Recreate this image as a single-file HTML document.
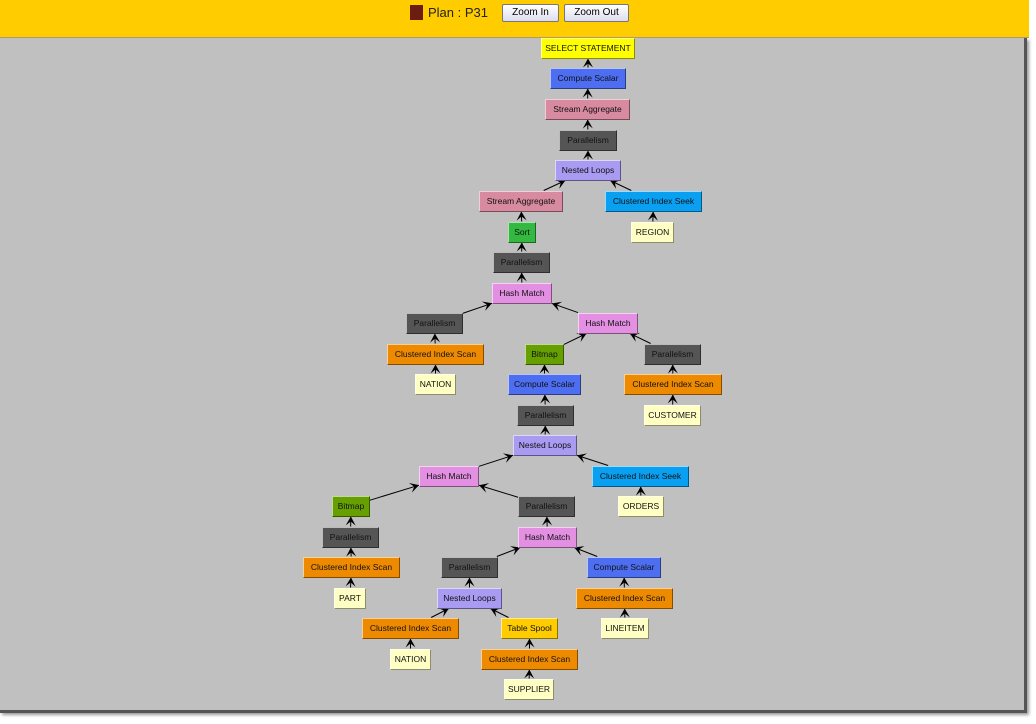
<!DOCTYPE html>
<html><head><meta charset="utf-8"><style>
html,body{margin:0;padding:0;width:1036px;height:724px;overflow:hidden;background:#fff;font-family:"Liberation Sans",sans-serif}
#hdr{position:absolute;left:0;top:0;width:1029px;height:37px;background:#ffcc00;border-bottom:1px solid #b89a60}
#area{position:absolute;left:0;top:38px;width:1024px;height:672px;background:#c0c0c0;border-right:3px solid #555;border-bottom:3px solid #555;box-shadow:2px 2px 3px #999}
.sq{position:absolute;left:410px;top:5px;width:13px;height:15px;background:#6b1d12}
.pl{position:absolute;left:428px;top:5px;font-size:13px;color:#222}
.btn{position:absolute;top:4px;height:16px;border:1px solid #777;border-radius:2px;background:linear-gradient(#fff,#dde);font-size:10px;text-align:center;line-height:16px;color:#000}
.n{position:absolute;box-sizing:border-box;height:21px;font-size:8.5px;line-height:19px;text-align:center;white-space:nowrap;color:#111;border:1px solid;border-color:rgba(255,255,255,.6) rgba(0,0,0,.45) rgba(0,0,0,.45) rgba(255,255,255,.6)}
svg{position:absolute;left:0;top:0}
</style></head><body>
<div id="hdr"><div class="sq"></div><div class="pl">Plan : P31</div>
<div class="btn" style="left:502px;width:55px">Zoom In</div>
<div class="btn" style="left:564px;width:63px">Zoom Out</div></div>
<div id="area"></div>
<svg id="s" width="1036" height="724"></svg>
<div id="nodes"></div>
<script>
var C={Y:'#ffff00',B:'#4d6ef0',P:'#d88ba0',D:'#555555',L:'#a99af2',S:'#0aa0f2',G:'#33b840',Gr:'#66a000',H:'#e390e3',O:'#ee8a00',W:'#ffffc4',T:'#ffcc00'};
var N=[
['SELECT STATEMENT',541,635,48,'Y'],
['Compute Scalar',550,626,78,'B'],
['Stream Aggregate',545,630,109,'P'],
['Parallelism',559,617,140,'D'],
['Nested Loops',555,621,170,'L'],
['Stream Aggregate',479,563,201,'P'],
['Clustered Index Seek',605,702,201,'S'],
['Sort',508,536,232,'G'],
['REGION',631,674,232,'W'],
['Parallelism',493,550,262,'D'],
['Hash Match',492,552,293,'H'],
['Parallelism',406,463,323,'D'],
['Hash Match',578,638,323,'H'],
['Clustered Index Scan',387,484,354,'O'],
['Bitmap',525,564,354,'Gr'],
['Parallelism',644,701,354,'D'],
['NATION',415,456,384,'W'],
['Compute Scalar',508,581,384,'B'],
['Clustered Index Scan',624,722,384,'O'],
['Parallelism',517,574,415,'D'],
['CUSTOMER',644,701,415,'W'],
['Nested Loops',513,577,445,'L'],
['Hash Match',419,479,476,'H'],
['Clustered Index Seek',592,689,476,'S'],
['Bitmap',332,370,506,'Gr'],
['Parallelism',518,575,506,'D'],
['ORDERS',618,664,506,'W'],
['Parallelism',322,379,537,'D'],
['Hash Match',518,577,537,'H'],
['Clustered Index Scan',303,400,567,'O'],
['Parallelism',441,498,567,'D'],
['Compute Scalar',587,661,567,'B'],
['PART',334,366,598,'W'],
['Nested Loops',437,502,598,'L'],
['Clustered Index Scan',576,673,598,'O'],
['Clustered Index Scan',362,459,628,'O'],
['Table Spool',501,558,628,'T'],
['LINEITEM',601,649,628,'W'],
['NATION',390,431,659,'W'],
['Clustered Index Scan',481,578,659,'O'],
['SUPPLIER',504,554,689,'W']
];
var E=[[1,0],[2,1],[3,2],[4,3],[5,4],[6,4],[7,5],[8,6],[9,7],[10,9],[11,10],[12,10],[13,11],[14,12],[15,12],[16,13],[17,14],[18,15],[19,17],[20,18],[21,19],[22,21],[23,21],[24,22],[25,22],[26,23],[27,24],[28,25],[29,27],[30,28],[31,28],[32,29],[33,30],[34,31],[35,33],[36,33],[37,34],[38,35],[39,36],[40,39]];
var h='',s='';
N.forEach(function(n){var w=n[2]-n[1];
h+='<div class="n" style="left:'+n[1]+'px;top:'+(n[3]-10)+'px;width:'+w+'px;background:'+C[n[4]]+'">'+n[0]+'</div>';});
document.getElementById('nodes').innerHTML=h;
function clip(n,dx,dy){var hw=(n[2]-n[1])/2,hh=10.5;var t=Math.min(dx?hw/Math.abs(dx):1e9,dy?hh/Math.abs(dy):1e9);return t;}
E.forEach(function(e){var a=N[e[0]],b=N[e[1]];
var ax=(a[1]+a[2])/2,ay=a[3],bx=(b[1]+b[2])/2,by=b[3];
var dx=bx-ax,dy=by-ay;
var ta=clip(a,dx,dy),tb=clip(b,-dx,-dy);
var x1=ax+dx*ta,y1=ay+dy*ta,x2=bx-dx*tb,y2=by-dy*tb;
var L=Math.hypot(x2-x1,y2-y1),ux=(x2-x1)/L,uy=(y2-y1)/L;
var px=-uy,py=ux,al=9,aw=5;
var bx1=x2-ux*al,by1=y2-uy*al;
s+='<line x1="'+x1+'" y1="'+y1+'" x2="'+x2+'" y2="'+y2+'" stroke="#000" stroke-width="1"/>';
s+='<polygon fill="#000" points="'+x2+','+y2+' '+(bx1+px*aw)+','+(by1+py*aw)+' '+(x2-ux*5)+','+(y2-uy*5)+' '+(bx1-px*aw)+','+(by1-py*aw)+'"/>';
});
document.getElementById('s').innerHTML=s;
</script>
</body></html>
